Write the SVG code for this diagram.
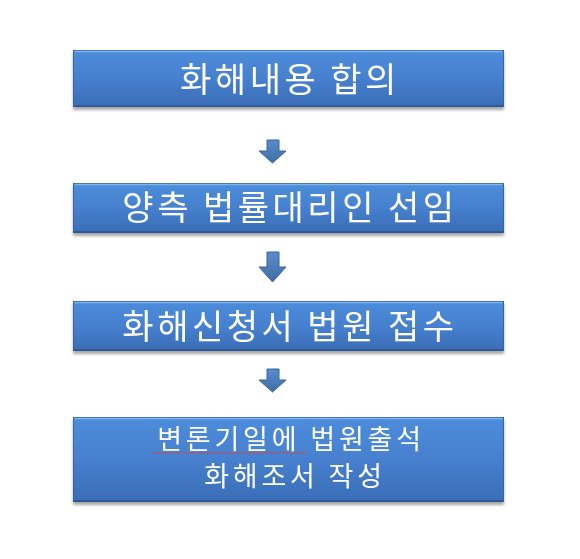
<svg xmlns="http://www.w3.org/2000/svg" width="580" height="559" viewBox="0 0 580 559">
  <defs>
    <linearGradient id="boxGrad" x1="0" y1="0" x2="0" y2="1">
      <stop offset="0" stop-color="#4d8ddb"/>
      <stop offset="0.5" stop-color="#4680cf"/>
      <stop offset="1" stop-color="#3a6db5"/>
    </linearGradient>
    <linearGradient id="arrowGrad" x1="0" y1="0" x2="0" y2="1">
      <stop offset="0" stop-color="#5a8ccc"/>
      <stop offset="1" stop-color="#3f6ea8"/>
    </linearGradient>
    <filter id="shadow" x="-5%" y="-20%" width="110%" height="150%">
      <feGaussianBlur in="SourceAlpha" stdDeviation="1.5"/>
      <feOffset dx="0" dy="2.5" result="b"/>
      <feComponentTransfer><feFuncA type="linear" slope="0.35"/></feComponentTransfer>
      <feMerge><feMergeNode/><feMergeNode in="SourceGraphic"/></feMerge>
    </filter>
  </defs>
  <style>
    .box { fill: url(#boxGrad); stroke: #3565a6; stroke-width: 1; }
    .hl { fill: none; stroke: #7fb2ee; stroke-width: 1.5; }
    .btm { fill: none; stroke: #2b5590; stroke-width: 1.5; }
    .lbl { font-family: "Noto Sans CJK KR", "Noto Sans", sans-serif; font-size: 34px; fill: #ffffff; text-anchor: middle; letter-spacing: 3.5px; }
    .lbl2 { font-family: "Noto Sans CJK KR", "Noto Sans", sans-serif; font-size: 27px; fill: #ffffff; text-anchor: middle; letter-spacing: 3.8px; }
    .arr { fill: url(#arrowGrad); stroke: #3b6597; stroke-width: 1; }
  </style>

  <g id="node1" filter="url(#shadow)">
    <rect class="box" x="73.5" y="50.5" width="430" height="56"/>
    <line class="hl" x1="74.5" y1="51.5" x2="502.5" y2="51.5"/>
    <line class="btm" x1="73.5" y1="106" x2="503.5" y2="106"/>
    <text class="lbl" x="290" y="92">화해내용 합의</text>
  </g>

  <g id="node2" filter="url(#shadow)">
    <rect class="box" x="73.5" y="183.5" width="430" height="49"/>
    <line class="hl" x1="74.5" y1="184.5" x2="502.5" y2="184.5"/>
    <line class="btm" x1="73.5" y1="232" x2="503.5" y2="232"/>
    <text class="lbl" x="290" y="220">양측 법률대리인 선임</text>
  </g>

  <g id="node3" filter="url(#shadow)">
    <rect class="box" x="73.5" y="301.5" width="430" height="49"/>
    <line class="hl" x1="74.5" y1="302.5" x2="502.5" y2="302.5"/>
    <line class="btm" x1="73.5" y1="350" x2="503.5" y2="350"/>
    <text class="lbl" x="290" y="339">화해신청서 법원 접수</text>
  </g>

  <g id="node4" filter="url(#shadow)">
    <rect class="box" x="73.5" y="417.5" width="430" height="84"/>
    <line class="hl" x1="74.5" y1="418.5" x2="502.5" y2="418.5"/>
    <line class="btm" x1="73.5" y1="501" x2="503.5" y2="501"/>
    <text class="lbl2" x="291" y="449">변론기일에 법원출석</text>
    <text class="lbl2" x="295" y="486">화해조서 작성</text>
    <path d="M152,453.5 l2,-1.5 l2,1.5 l2,-1.5 l2,1.5 l2,-1.5 l2,1.5 l2,-1.5 l2,1.5 l2,-1.5 l2,1.5 l2,-1.5 l2,1.5 l2,-1.5 l2,1.5 l2,-1.5 l2,1.5 l2,-1.5 l2,1.5 l2,-1.5 l2,1.5 l2,-1.5 l2,1.5 l2,-1.5 l2,1.5 l2,-1.5 l2,1.5 l2,-1.5 l2,1.5 l2,-1.5 l2,1.5 l2,-1.5 l2,1.5 l2,-1.5 l2,1.5 l2,-1.5 l2,1.5 l2,-1.5 l2,1.5 l2,-1.5 l2,1.5 l2,-1.5 l2,1.5 l2,-1.5 l2,1.5 l2,-1.5 l2,1.5 l2,-1.5 l2,1.5 l2,-1.5 l2,1.5 l2,-1.5 l2,1.5 l2,-1.5 l2,1.5 l2,-1.5 l2,1.5 l2,-1.5 l2,1.5 l2,-1.5 l2,1.5 l2,-1.5 l2,1.5 l2,-1.5 l2,1.5 l2,-1.5 l2,1.5 l2,-1.5 l2,1.5 l2,-1.5 l2,1.5 l2,-1.5 l2,1.5 l2,-1.5 l2,1.5 l2,-1.5 l2,1.5 l2,-1.5" fill="none" stroke="#e04040" stroke-width="0.8"/>
  </g>

  <g id="connectors">
    <path class="arr" d="M267,140 H279 V151 H286 L272.5,163 L259,151 H267 Z"/>
    <path class="arr" d="M267,252 H279 V267 H286 L272.5,282 L259,267 H267 Z"/>
    <path class="arr" d="M267,369 H279 V380 H286 L272.5,392 L259,380 H267 Z"/>
  </g>
</svg>
